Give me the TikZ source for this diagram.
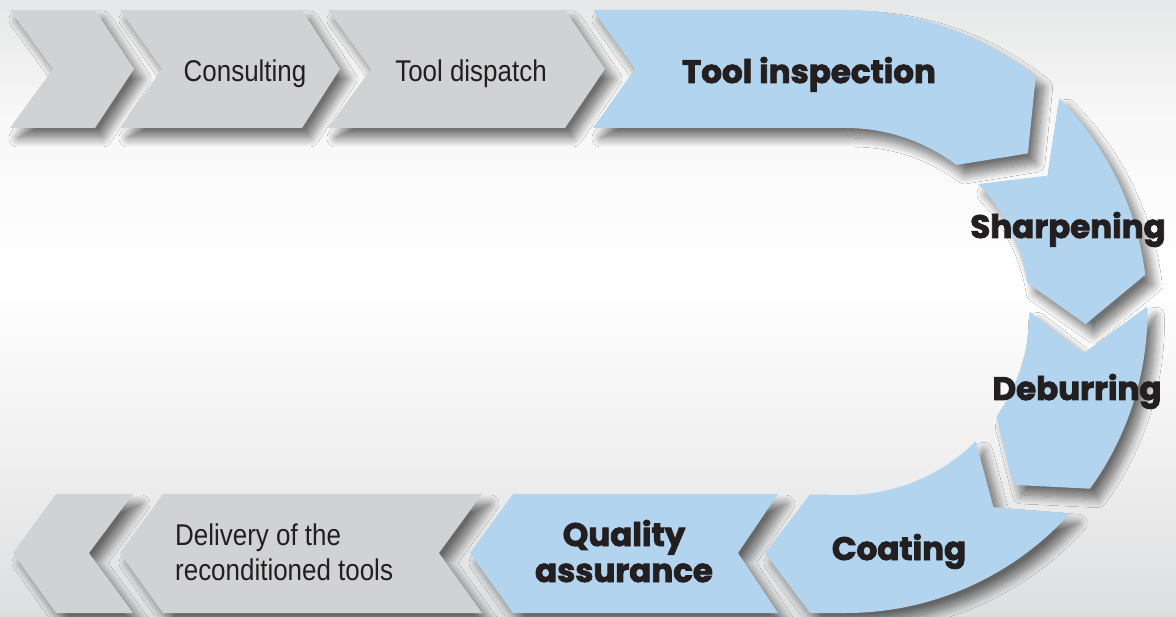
\documentclass[tikz,border=0pt]{standalone}
\usepackage{fontspec}
\setmainfont{Liberation Sans}
\newfontfamily\condfont{Liberation Sans}[FakeStretch=0.865]
\newfontfamily\heavyfont{Poppins}[BoldFeatures={FakeBold=2.5}]
\usetikzlibrary{calc,shadows.blur}

\definecolor{bgtop}{HTML}{E6E7E8}
\definecolor{bgbot}{HTML}{DDDEE0}
\definecolor{stepgray}{HTML}{D1D2D4}
\definecolor{stepblue}{HTML}{B2D4EE}
\definecolor{ink}{HTML}{231F20}

% light backdrop: grey at the edges, near white through the middle
\pgfdeclareverticalshading{backdrop}{100bp}{color(0bp)=(bgbot); color(25bp)=(bgbot);
  color(38bp)=(black!6); color(52bp)=(white); color(66bp)=(black!3);
  color(75bp)=(bgtop); color(100bp)=(bgtop)}

\tikzset{
  segshadow/.style={blur shadow={shadow xshift=8pt, shadow yshift=-10pt,
      shadow blur radius=9pt, shadow blur steps=12, shadow opacity=55}},
  grayseg/.style={fill=stepgray, segshadow},
  blueseg/.style={fill=stepblue, segshadow},
  plainlbl/.style={text=ink, font=\condfont\fontsize{30}{36}\selectfont, inner sep=0pt},
  heavylbl/.style={text=ink, font=\heavyfont\bfseries\fontsize{32.5}{38}\selectfont, inner sep=0pt},
}

\begin{document}
\begin{tikzpicture}[x=1pt,y=1pt]
  % background
  \useasboundingbox (0,0) rectangle (1176,-617);
  \shade[shading=backdrop] (0,0) rectangle (1176,-617);

  % centre of the bend
  \coordinate (C) at (846,-311.5);

  % top row of chevrons
  \path[grayseg] (10,-10) -- (95,-10) -- (134,-69) -- (95,-128) -- (10,-128) -- (53,-69) -- cycle;
  \path[grayseg] (120,-10) -- (302,-10) -- (340,-69) -- (302,-128) -- (120,-128) -- (162,-69) -- cycle;
  \path[grayseg] (328,-10) -- (565,-10) -- (605,-69) -- (565,-128) -- (328,-128) -- (371,-69) -- cycle;

  % tool inspection: straight run into the bend
  \path[blueseg] (593,-10) -- (846,-10) arc[start angle=90, end angle=51, radius=301.5]
    -- ($(C)+(41:241)$) -- ($(C)+(53:183.5)$) arc[start angle=53, end angle=90, radius=183.5]
    -- (593,-128) -- (635,-69) -- cycle;

  % sharpening
  \path[blueseg] ($(C)+(45:301.5)$) arc[start angle=45, end angle=7, radius=301.5]
    -- ($(C)+(-3:240)$) -- ($(C)+(9:183.5)$) arc[start angle=9, end angle=44, radius=183.5]
    -- ($(C)+(34:243)$) -- cycle;

  % deburring
  \path[blueseg] ($(C)+(1:301.5)$) arc[start angle=1, end angle=-36, radius=301.5]
    -- ($(C)+(-46:241)$) -- ($(C)+(-35:183.5)$) arc[start angle=-35, end angle=0, radius=183.5]
    -- ($(C)+(-10:241)$) -- cycle;

  % coating: out of the bend into the bottom row
  \path[blueseg] ($(C)+(-42:301.5)$) arc[start angle=-42, end angle=-90, radius=301.5]
    -- (810,-613) -- (765,-553) -- (810,-494.5) -- ($(C)+(-90:183.5)$)
    arc[start angle=-90, end angle=-45, radius=183.5] -- ($(C)+(-53:245)$) -- cycle;

  % bottom row of chevrons, pointing left
  \path[blueseg] (513,-494) -- (778,-494) -- (738,-553) -- (778,-613) -- (513,-613) -- (470,-553) -- cycle;
  \path[grayseg] (163,-494) -- (482,-494) -- (439,-553) -- (482,-613) -- (163,-613) -- (120,-553) -- cycle;
  \path[grayseg] (56,-494) -- (133,-494) -- (89,-553) -- (133,-613) -- (56,-613) -- (13,-553) -- cycle;

  % labels
  \node[plainlbl, anchor=base] (consult) at (245,-82) {Consulting};
  \node[plainlbl, anchor=base] (dispatch) at (471,-82) {Tool dispatch};
  \node[heavylbl, anchor=base] (inspect) at (809,-83) {Tool inspection};
  \node[heavylbl, anchor=base] (sharpen) at (1068,-238) {Sharpening};
  \node[heavylbl, anchor=base] (deburr) at (1077,-400) {Deburring};
  \node[heavylbl, anchor=base] (coat) at (899,-560) {Coating};
  \node[heavylbl, anchor=base] (quality) at (624,-546) {Quality};
  \node[heavylbl, anchor=base] (assure) at (624,-582) {assurance};
  \node[plainlbl, anchor=base west] (deliv1) at (175,-545) {Delivery of the};
  \node[plainlbl, anchor=base west] (deliv2) at (175,-580) {reconditioned tools};
\end{tikzpicture}
\end{document}
